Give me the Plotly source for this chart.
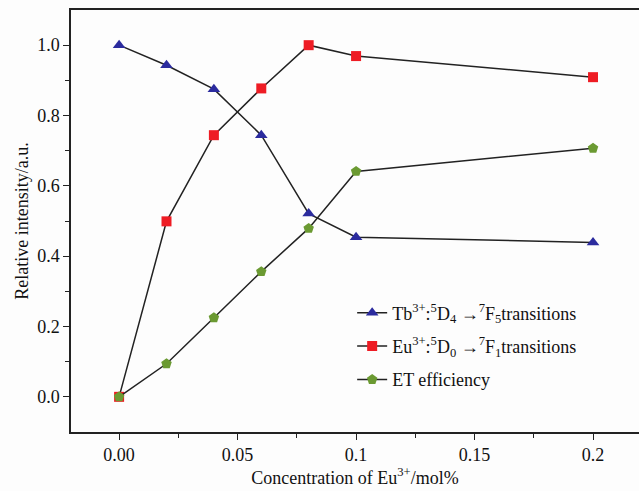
import plotly.graph_objects as go

conc = [0, 0.02, 0.04, 0.06, 0.08, 0.1, 0.2]
tb = [1.0, 0.943, 0.875, 0.744, 0.521, 0.454, 0.439]
eu = [0.0, 0.499, 0.744, 0.877, 1.0, 0.969, 0.909]
et = [0.0, 0.094, 0.225, 0.356, 0.479, 0.641, 0.707]

x_tickvals = [0, 0.05, 0.1, 0.15, 0.2]
x_ticktext = ["0.00", "0.05", "0.1", "0.15", "0.2"]
y_tickvals = [0.0, 0.2, 0.4, 0.6, 0.8, 1.0]
y_ticktext = ["0.0", "0.2", "0.4", "0.6", "0.8", "1.0"]

names = [
    "Tb<sup>3+</sup>:<sup>5</sup>D<sub>4</sub> →<sup>7</sup>F<sub>5</sub>transitions",
    "Eu<sup>3+</sup>:<sup>5</sup>D<sub>0</sub> →<sup>7</sup>F<sub>1</sub>transitions",
    "ET efficiency",
]

FONT = "Liberation Serif"
line_col = "#222222"

fig = go.Figure()
fig.add_trace(go.Scatter(x=conc, y=tb, mode="lines+markers", name=names[0], legendgroup="a",
                         line=dict(color=line_col, width=1.5),
                         marker=dict(symbol="triangle-up", size=11, color="#2b2b9e")))
fig.add_trace(go.Scatter(x=conc, y=eu, mode="lines+markers", name=names[1], legendgroup="b",
                         line=dict(color=line_col, width=1.5),
                         marker=dict(symbol="square", size=10, color="#ee1c24")))
fig.add_trace(go.Scatter(x=conc, y=et, mode="lines+markers", name=names[2], legendgroup="c",
                         line=dict(color=line_col, width=1.5),
                         marker=dict(symbol="pentagon", size=11, color="#6b9a32")))

fig.update_layout(
    width=639, height=491,
    margin=dict(l=71, r=0, t=10, b=59, autoexpand=False),
    paper_bgcolor="#fdfdfd", plot_bgcolor="#fdfdfd",
    font=dict(family=FONT, size=18, color="#111111"),
    showlegend=True,
    legend=dict(x=0.495, y=0.326, xanchor="left", yanchor="top",
                bgcolor="rgba(0,0,0,0)", font=dict(family=FONT, size=18),
                tracegroupgap=7),
    xaxis=dict(range=[-0.0203, 0.2194], tickvals=x_tickvals, ticktext=x_ticktext,
               automargin=False,
               showgrid=False, zeroline=False, showline=True, linecolor="#222", linewidth=1.5,
               mirror=True, ticks="outside", ticklen=6, tickwidth=1.2, tickcolor="#222",
               tickfont=dict(family=FONT, size=18),
               minor=dict(tickvals=[0.025, 0.075, 0.125, 0.175], ticks="outside", ticklen=4,
                          tickwidth=1.2, tickcolor="#222"),
               title=dict(text="Concentration of Eu<sup>3+</sup>/mol%", standoff=2,
                          font=dict(family=FONT, size=18))),
    yaxis=dict(range=[-0.1, 1.1], tickvals=y_tickvals, ticktext=y_ticktext,
               automargin=False,
               showgrid=False, zeroline=False, showline=True, linecolor="#222", linewidth=1.5,
               ticks="outside", ticklen=6, tickwidth=1.2, tickcolor="#222",
               tickfont=dict(family=FONT, size=18),
               minor=dict(tickvals=[0.1, 0.3, 0.5, 0.7, 0.9], ticks="outside", ticklen=4,
                          tickwidth=1.2, tickcolor="#222"),
               title=dict(text="Relative intensity/a.u.", standoff=4,
                          font=dict(family=FONT, size=18))),
)

fig.write_html("out.html", config={"displayModeBar": False},
               post_script="document.body.style.margin='0';document.body.style.padding='0';"
                           "document.body.style.overflow='hidden';")
